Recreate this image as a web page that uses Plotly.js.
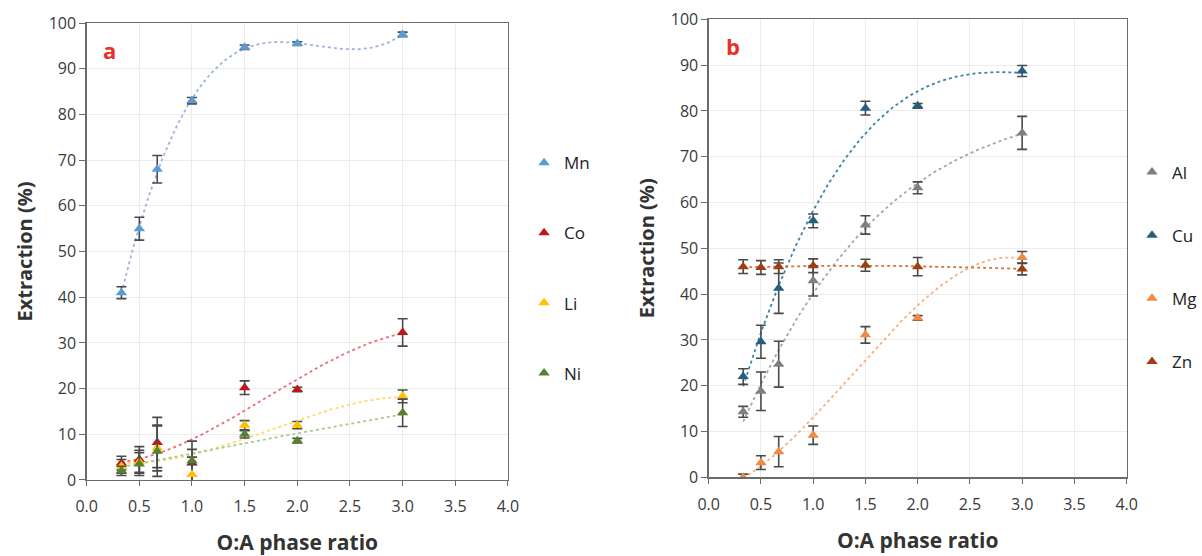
<!DOCTYPE html>
<html>
<head>
<meta charset="utf-8">
<script src="https://cdn.plot.ly/plotly-3.0.1.min.js"></script>
<style>
  html, body { margin: 0; padding: 0; background: #ffffff; }
  #chart { width: 1202px; height: 556px; }
</style>
</head>
<body>
<div id="chart"></div>
<script>
// ---------- Data ----------
const ratios = [0.33, 0.5, 0.67, 1.0, 1.5, 2.0, 3.0];

// Panel a
const mnY   = [41.0, 55.0, 68.0, 83.0, 94.7, 95.5, 97.5];
const mnErr = [1.3, 2.5, 3.0, 0.7, 0.5, 0.4, 0.5];
const coY   = [3.7, 4.5, 8.2, 3.7, 20.2, 19.8, 32.3];
const coErr = [1.5, 2.8, 5.5, 4.8, 1.5, 0.5, 3.0];
const liY   = [3.0, 4.0, 7.0, 1.2, 12.0, 12.0, 18.3];
const liErr = [1.5, 2.5, 5.0, 5.5, 1.0, 0.8, 1.4];
const niY   = [2.0, 3.5, 6.3, 4.2, 10.0, 8.6, 14.7];
const niErr = [1.0, 2.5, 5.5, 0.8, 0.8, 0.5, 3.0];

// Panel b
const alY   = [14.3, 18.8, 24.7, 42.9, 55.1, 63.2, 75.2];
const alErr = [1.2, 4.2, 5.0, 3.3, 2.0, 1.3, 3.6];
const cuY   = [22.0, 29.6, 41.3, 56.0, 80.6, 81.1, 88.7];
const cuErr = [1.7, 3.6, 5.5, 1.5, 1.5, 0.5, 1.2];
const mgY   = [0.0, 3.2, 5.6, 9.2, 31.1, 34.8, 48.0];
const mgErr = [0.7, 1.5, 3.3, 2.0, 1.8, 0.5, 1.3];
const znY   = [46.0, 45.8, 46.0, 46.2, 46.3, 46.0, 45.5];
const znErr = [1.5, 1.5, 1.5, 1.5, 1.3, 2.0, 1.3];

const seriesA = [
  {name: 'Mn', y: mnY, err: mnErr, color: '#5b9bd5', trend: '#9fb3dd', order: 3},
  {name: 'Co', y: coY, err: coErr, color: '#c0161b', trend: '#e8707a', order: 3},
  {name: 'Li', y: liY, err: liErr, color: '#ffc000', trend: '#ffd966', order: 3},
  {name: 'Ni', y: niY, err: niErr, color: '#548235', trend: '#a9c98e', order: 2}
];
const seriesB = [
  {name: 'Al', y: alY, err: alErr, color: '#7f7f7f', trend: '#a6a6a6', order: 3},
  {name: 'Cu', y: cuY, err: cuErr, color: '#255e7e', trend: '#3d85a8', order: 3},
  {name: 'Mg', y: mgY, err: mgErr, color: '#f08a45', trend: '#f4b183', order: 3},
  {name: 'Zn', y: znY, err: znErr, color: '#9e3f12', trend: '#c97a45', order: 3}
];

// ---------- Least-squares polynomial trendline (like the spreadsheet trendline) ----------
function polyFit(xs, ys, order) {
  const n = order + 1;
  const A = [];
  for (let i = 0; i < n; i++) {
    A.push(new Array(n + 1).fill(0));
    for (let j = 0; j < n; j++) {
      let s = 0;
      for (let k = 0; k < xs.length; k++) s += Math.pow(xs[k], i + j);
      A[i][j] = s;
    }
    let t = 0;
    for (let k = 0; k < xs.length; k++) t += ys[k] * Math.pow(xs[k], i);
    A[i][n] = t;
  }
  for (let c = 0; c < n; c++) {
    let p = c;
    for (let r = c + 1; r < n; r++) if (Math.abs(A[r][c]) > Math.abs(A[p][c])) p = r;
    const tmp = A[c]; A[c] = A[p]; A[p] = tmp;
    for (let r = 0; r < n; r++) {
      if (r === c) continue;
      const f = A[r][c] / A[c][c];
      for (let j = c; j <= n; j++) A[r][j] -= f * A[c][j];
    }
  }
  const coef = [];
  for (let i = 0; i < n; i++) coef.push(A[i][n] / A[i][i]);
  return coef;
}
function trendCurve(xs, ys, order) {
  const coef = polyFit(xs, ys, order);
  const x0 = Math.min(...xs), x1 = Math.max(...xs);
  const tx = [], ty = [];
  const steps = 120;
  for (let i = 0; i <= steps; i++) {
    const x = x0 + (x1 - x0) * i / steps;
    let y = 0;
    for (let k = 0; k < coef.length; k++) y += coef[k] * Math.pow(x, k);
    tx.push(x); ty.push(y);
  }
  return {x: tx, y: ty};
}

const traces = [];
function addPanel(series, xa, ya, legendId) {
  series.forEach(s => {
    const t = trendCurve(ratios, s.y, s.order);
    traces.push({
      x: t.x, y: t.y, xaxis: xa, yaxis: ya, mode: 'lines', type: 'scatter',
      line: {color: s.trend, width: 1.8, dash: 'dot'},
      showlegend: false, hoverinfo: 'skip'
    });
  });
  series.forEach(s => {
    traces.push({
      x: ratios, y: s.y, xaxis: xa, yaxis: ya, name: s.name, type: 'scatter', mode: 'markers',
      legend: legendId, legendgroup: s.name,
      marker: {symbol: 'triangle-up', size: 10, color: s.color},
      error_y: {type: 'data', array: s.err, visible: true, color: '#4a4a4a', thickness: 1.6, width: 5}
    });
  });
}
addPanel(seriesA, 'x', 'y', 'legend');
addPanel(seriesB, 'x2', 'y2', 'legend2');

const fontFam = '"Open Sans", "Noto Sans", sans-serif';
function xAxis(domain, anchor) {
  return {
    domain: domain, anchor: anchor, range: [0, 4], dtick: 0.5, tick0: 0, tickformat: '.1f',
    showgrid: true, gridcolor: '#ececec', gridwidth: 1, zeroline: false,
    showline: true, linecolor: '#6b6b6b', linewidth: 1.3, mirror: true,
    ticks: 'outside', ticklen: 5, tickcolor: '#6b6b6b', ticklabelstandoff: 7,
    tickfont: {family: fontFam, size: 16, color: '#3a3a3a'},
    title: {text: 'O:A phase ratio', standoff: 19, font: {family: fontFam, size: 21, color: '#333333', weight: 'bold'}}
  };
}
function yAxis(domain, anchor) {
  return {
    domain: domain, anchor: anchor, range: [0, 100], dtick: 10,
    showgrid: true, gridcolor: '#ececec', gridwidth: 1, zeroline: false,
    showline: true, linecolor: '#6b6b6b', linewidth: 1.3, mirror: true,
    ticks: 'outside', ticklen: 6, tickcolor: '#6b6b6b',
    tickfont: {family: fontFam, size: 16, color: '#3a3a3a'},
    title: {text: 'Extraction (%)', standoff: 10, font: {family: fontFam, size: 20, color: '#333333', weight: 'bold'}}
  };
}

const layout = {
  width: 1202, height: 556,
  margin: {l: 0, r: 0, t: 0, b: 0},
  paper_bgcolor: '#ffffff', plot_bgcolor: '#ffffff',
  font: {family: fontFam, color: '#333333'},
  xaxis: xAxis([0.0721, 0.4226], 'y'),
  yaxis: yAxis([0.1367, 0.9586], 'x'),
  xaxis2: xAxis([0.5896, 0.9373], 'y2'),
  yaxis2: yAxis([0.1415, 0.9653], 'x2'),
  legend: {
    x: 0.436, y: 0.739, xanchor: 'left', yanchor: 'top',
    bgcolor: 'rgba(0,0,0,0)', tracegroupgap: 45,
    font: {family: fontFam, size: 17, color: '#222222'}
  },
  legend2: {
    x: 0.942, y: 0.722, xanchor: 'left', yanchor: 'top',
    bgcolor: 'rgba(0,0,0,0)', tracegroupgap: 38,
    font: {family: fontFam, size: 17, color: '#222222'}
  },
  annotations: [
    {text: 'a', xref: 'paper', yref: 'paper', x: 0.0915, y: 0.910, xanchor: 'center', yanchor: 'middle', showarrow: false,
     font: {family: fontFam, size: 22, color: '#e8302a', weight: 'bold'}},
    {text: 'b', xref: 'paper', yref: 'paper', x: 0.6098, y: 0.917, xanchor: 'center', yanchor: 'middle', showarrow: false,
     font: {family: fontFam, size: 22, color: '#e8302a', weight: 'bold'}}
  ],
  showlegend: true
};

Plotly.newPlot('chart', traces, layout, {staticPlot: true, displayModeBar: false});
</script>
</body>
</html>
